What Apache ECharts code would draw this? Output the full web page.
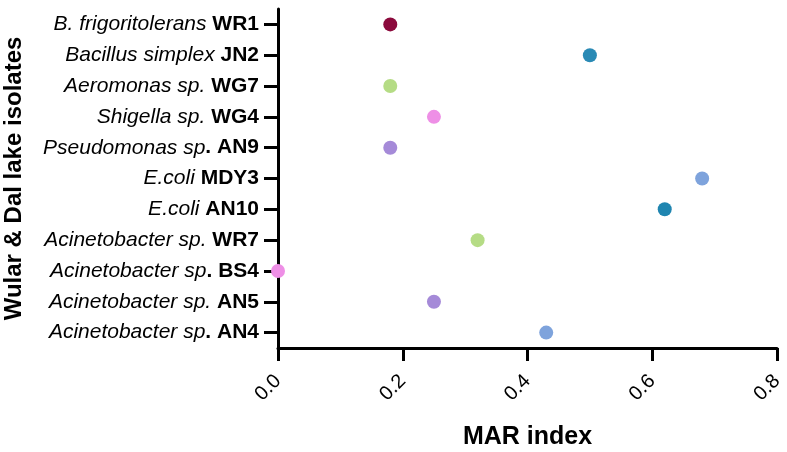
<!DOCTYPE html>
<html>
<head>
<meta charset="utf-8">
<script src="https://cdn.jsdelivr.net/npm/echarts@6/dist/echarts.min.js"></script>
<style>html,body{margin:0;padding:0;background:#fff}#c{width:787px;height:452px}</style>
</head>
<body>
<div id="c"></div>
<script>
// Categories (bottom to top) split into italic part and bold part
const speciesNames = ["Acinetobacter sp", "Acinetobacter sp.", "Acinetobacter sp", "Acinetobacter sp.", "E.coli", "E.coli", "Pseudomonas sp", "Shigella sp.", "Aeromonas sp.", "Bacillus simplex", "B. frigoritolerans"];
const strainNames = [". AN4", "AN5", ". BS4", "WR7", "AN10", "MDY3", ". AN9", "WG4", "WG7", "JN2", "WR1"];
const marValues = [0.43, 0.25, 0.0, 0.32, 0.62, 0.68, 0.18, 0.25, 0.18, 0.50, 0.18];
const pointColors = ["#7ea3dc", "#a58ad8", "#ee8fe6", "#b5dc85", "#1f85b0", "#7ea3dc", "#a58ad8", "#ee8fe6", "#b5dc85", "#2a8ab5", "#8b0a3c"];
const xTicks = [0.0, 0.2, 0.4, 0.6, 0.8];

const categories = speciesNames.map((s, i) => s + "|" + strainNames[i]);
const chart = echarts.init(document.getElementById('c'));
const FONT = '"Liberation Sans", Arial, sans-serif';
chart.setOption({
  animation: false,
  grid: { left: 278, right: 10, top: 9, bottom: 104, containLabel: false, outerBoundsMode: 'none' },
  xAxis: {
    type: 'value', min: 0, max: 0.8, interval: 0.2,
    name: 'MAR index', nameLocation: 'middle', nameGap: 77,
    nameTextStyle: { fontFamily: FONT, fontWeight: 'bold', fontSize: 25, color: '#000' },
    axisLine: { show: true, lineStyle: { color: '#000', width: 3 } },
    axisTick: { show: true, length: 13, lineStyle: { color: '#000', width: 3 } },
    axisLabel: { rotate: 45, margin: 30, fontFamily: FONT, fontSize: 20, color: '#000',
      formatter: v => v.toFixed(1) },
    splitLine: { show: false }
  },
  yAxis: {
    type: 'category', data: categories,
    name: 'Wular & Dal lake isolates', nameLocation: 'middle', nameGap: 252, nameRotate: 90,
    nameTextStyle: { fontFamily: FONT, fontWeight: 'bold', fontSize: 24, color: '#000' },
    axisLine: { show: true, lineStyle: { color: '#000', width: 3 } },
    axisTick: { show: true, alignWithLabel: true, length: 14, lineStyle: { color: '#000', width: 3 } },
    axisLabel: {
      margin: 19, fontFamily: FONT, fontSize: 21, color: '#000',
      formatter: v => { const p = v.split('|'); return '{i|' + p[0] + '}' + (p[1].startsWith('.') ? '{b|' + p[1] + '}' : '{i| }{b|' + p[1] + '}'); },
      rich: {
        i: { fontFamily: FONT, fontStyle: 'italic', fontSize: 21, color: '#000' },
        b: { fontFamily: FONT, fontWeight: 'bold', fontSize: 21, color: '#000' }
      }
    }
  },
  series: [{
    type: 'scatter', symbolSize: 14,
    data: marValues.map((v, i) => ({ value: [v, categories[i]], itemStyle: { color: pointColors[i], opacity: 1 } })),
    clip: false
  }]
});
</script>
</body>
</html>
